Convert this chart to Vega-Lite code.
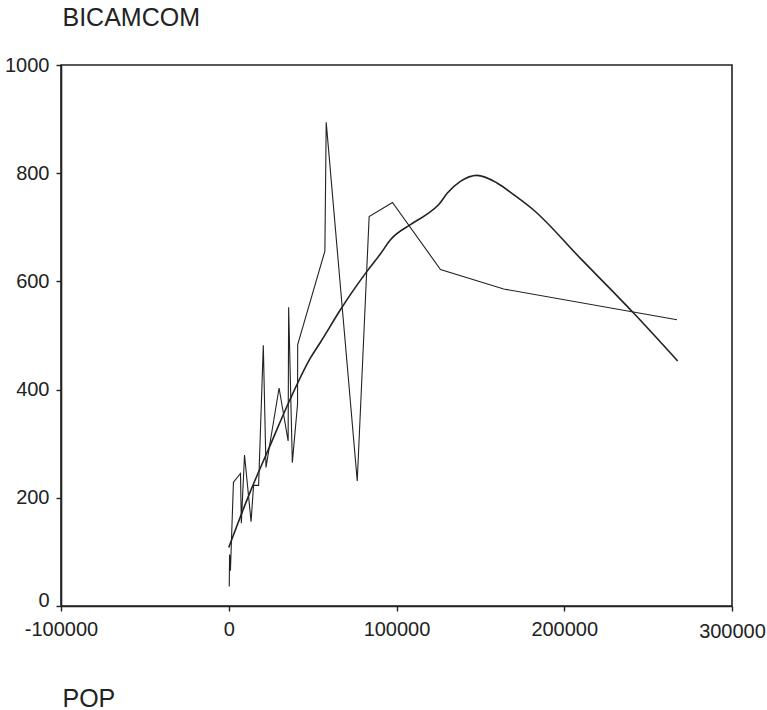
{
  "$schema": "https://vega.github.io/schema/vega-lite/v6.json",
  "autosize": "none",
  "width": 671,
  "height": 541,
  "padding": {"left": 61, "top": 65, "right": 35, "bottom": 104},
  "background": "white",
  "config": {
    "view": {"stroke": "#222", "strokeWidth": 1.6},
    "font": "Liberation Sans",
    "axis": {
      "grid": false,
      "domainColor": "#222",
      "domainWidth": 1.6,
      "tickColor": "#222",
      "tickWidth": 1.4,
      "tickSize": 5,
      "labelFont": "Liberation Sans",
      "labelFontSize": 20,
      "labelColor": "#222",
      "titleFont": "Liberation Sans",
      "titleFontSize": 25,
      "titleFontWeight": "normal",
      "titleColor": "#222"
    }
  },
  "data": {
    "values": [
      {"series": "raw", "i": 1, "POP": 300, "BICAMCOM": 36},
      {"series": "raw", "i": 2, "POP": 500, "BICAMCOM": 95},
      {"series": "raw", "i": 3, "POP": 1000, "BICAMCOM": 65},
      {"series": "raw", "i": 4, "POP": 2800, "BICAMCOM": 229},
      {"series": "raw", "i": 5, "POP": 7000, "BICAMCOM": 245},
      {"series": "raw", "i": 6, "POP": 7500, "BICAMCOM": 153},
      {"series": "raw", "i": 7, "POP": 9400, "BICAMCOM": 279},
      {"series": "raw", "i": 8, "POP": 13300, "BICAMCOM": 156},
      {"series": "raw", "i": 9, "POP": 14800, "BICAMCOM": 223},
      {"series": "raw", "i": 10, "POP": 17800, "BICAMCOM": 223},
      {"series": "raw", "i": 11, "POP": 20600, "BICAMCOM": 482},
      {"series": "raw", "i": 12, "POP": 22200, "BICAMCOM": 256},
      {"series": "raw", "i": 13, "POP": 30000, "BICAMCOM": 403},
      {"series": "raw", "i": 14, "POP": 35400, "BICAMCOM": 305},
      {"series": "raw", "i": 15, "POP": 35700, "BICAMCOM": 552},
      {"series": "raw", "i": 16, "POP": 37900, "BICAMCOM": 265},
      {"series": "raw", "i": 17, "POP": 41000, "BICAMCOM": 373},
      {"series": "raw", "i": 18, "POP": 41100, "BICAMCOM": 483},
      {"series": "raw", "i": 19, "POP": 57300, "BICAMCOM": 656},
      {"series": "raw", "i": 20, "POP": 58100, "BICAMCOM": 894},
      {"series": "raw", "i": 21, "POP": 76600, "BICAMCOM": 231},
      {"series": "raw", "i": 22, "POP": 83700, "BICAMCOM": 720},
      {"series": "raw", "i": 23, "POP": 97600, "BICAMCOM": 746},
      {"series": "raw", "i": 24, "POP": 126200, "BICAMCOM": 622},
      {"series": "raw", "i": 25, "POP": 163900, "BICAMCOM": 586},
      {"series": "raw", "i": 26, "POP": 267200, "BICAMCOM": 529},
      {"series": "smooth", "i": 1, "POP": 0, "BICAMCOM": 108},
      {"series": "smooth", "i": 2, "POP": 12000, "BICAMCOM": 205},
      {"series": "smooth", "i": 3, "POP": 24000, "BICAMCOM": 292},
      {"series": "smooth", "i": 4, "POP": 36000, "BICAMCOM": 378},
      {"series": "smooth", "i": 5, "POP": 48800, "BICAMCOM": 459},
      {"series": "smooth", "i": 6, "POP": 54760, "BICAMCOM": 488},
      {"series": "smooth", "i": 7, "POP": 66660, "BICAMCOM": 548},
      {"series": "smooth", "i": 8, "POP": 72600, "BICAMCOM": 576},
      {"series": "smooth", "i": 9, "POP": 82500, "BICAMCOM": 619},
      {"series": "smooth", "i": 10, "POP": 90460, "BICAMCOM": 651},
      {"series": "smooth", "i": 11, "POP": 96400, "BICAMCOM": 677},
      {"series": "smooth", "i": 12, "POP": 108300, "BICAMCOM": 705},
      {"series": "smooth", "i": 13, "POP": 118000, "BICAMCOM": 724},
      {"series": "smooth", "i": 14, "POP": 125200, "BICAMCOM": 742},
      {"series": "smooth", "i": 15, "POP": 130200, "BICAMCOM": 763},
      {"series": "smooth", "i": 16, "POP": 138100, "BICAMCOM": 785},
      {"series": "smooth", "i": 17, "POP": 148000, "BICAMCOM": 796},
      {"series": "smooth", "i": 18, "POP": 159900, "BICAMCOM": 782},
      {"series": "smooth", "i": 19, "POP": 170000, "BICAMCOM": 760},
      {"series": "smooth", "i": 20, "POP": 181700, "BICAMCOM": 732},
      {"series": "smooth", "i": 21, "POP": 209500, "BICAMCOM": 643},
      {"series": "smooth", "i": 22, "POP": 241200, "BICAMCOM": 542},
      {"series": "smooth", "i": 23, "POP": 267600, "BICAMCOM": 453}
    ]
  },
  "encoding": {
    "x": {
      "field": "POP",
      "type": "quantitative",
      "scale": {"domain": [-100000, 300000], "nice": false, "zero": false},
      "axis": {
        "values": [-100000, 0, 100000, 200000, 300000],
        "labelExpr": "'' + datum.value",
        "labelPadding": {"condition": {"test": "datum.value === 300000", "value": 10}, "value": 8},
        "labelFlush": false,
        "labelOverlap": false,
        "title": "POP",
        "titleAlign": "left",
        "titleBaseline": "alphabetic",
        "titleAnchor": "start",
        "titleX": 1,
        "titleY": 100
      }
    },
    "y": {
      "field": "BICAMCOM",
      "type": "quantitative",
      "scale": {"domain": [0, 1000], "nice": false},
      "axis": {
        "values": [0, 200, 400, 600, 800, 1000],
        "labelExpr": "'' + datum.value",
        "labelPadding": 7,
        "labelFlush": false,
        "labelOverlap": false,
        "labelBaseline": {"condition": {"test": "datum.value === 0", "value": "alphabetic"}, "value": "middle"},
        "title": "BICAMCOM",
        "titleAngle": 0,
        "titleAlign": "left",
        "titleBaseline": "alphabetic",
        "titleAnchor": "start",
        "titleX": 1,
        "titleY": -40
      }
    },
    "order": {"field": "i", "type": "quantitative"}
  },
  "layer": [
    {
      "transform": [{"filter": "datum.series === 'raw'"}],
      "mark": {"type": "line", "color": "#222", "strokeWidth": 1.1}
    },
    {
      "transform": [{"filter": "datum.series === 'smooth'"}],
      "mark": {"type": "line", "color": "#222", "strokeWidth": 1.6, "interpolate": "monotone"}
    }
  ]
}
